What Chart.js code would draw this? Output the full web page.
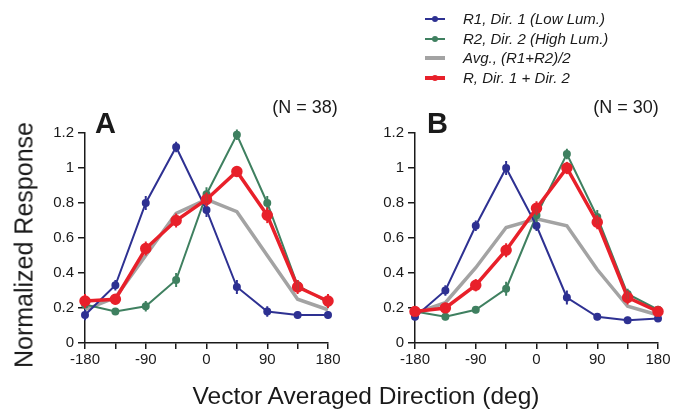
<!DOCTYPE html>
<html>
<head>
<meta charset="utf-8">
<script src="https://cdn.jsdelivr.net/npm/chart.js@4.4.0/dist/chart.umd.min.js"></script>
<style>
  body { margin: 0; background: #fff; font-family: "Liberation Sans", Arial, sans-serif; }
  #wrap { position: relative; width: 673px; height: 409px; overflow: hidden; }
  canvas { position: absolute; top: 0; }
  .txt { position: absolute; color: #1a1a1a; white-space: nowrap; }
  .leg { position: absolute; left: 425px; width: 240px; height: 19px; font-style: italic; font-size: 15px; color: #1a1a1a; white-space: nowrap; }
  .leg span.sw { position: absolute; left: 0; top: 8px; width: 20px; height: 3px; }
  .leg span.dot { position: absolute; left: 7px; top: 6px; width: 6px; height: 6px; border-radius: 50%; }
  .leg span.t { position: absolute; left: 38px; top: 0; }
</style>
</head>
<body>
<div id="wrap">
  <canvas id="panelA" width="345" height="409" style="left:0px;width:345px;height:409px"></canvas>
  <canvas id="panelB" width="343" height="409" style="left:330px;width:343px;height:409px"></canvas>

  <div class="txt" style="left:24px;top:245px;font-size:25px;transform:translate(-50%,-50%) rotate(-90deg);">Normalized Response</div>
  <div class="txt" style="left:366px;top:396px;font-size:24.5px;transform:translate(-50%,-50%);">Vector Averaged Direction (deg)</div>
  <div class="txt" style="left:95px;top:107px;font-size:29px;font-weight:bold;">A</div>
  <div class="txt" style="left:427px;top:107px;font-size:29px;font-weight:bold;">B</div>
  <div class="txt" style="left:305px;top:107px;font-size:18px;transform:translate(-50%,-50%);">(N = 38)</div>
  <div class="txt" style="left:626px;top:107px;font-size:18px;transform:translate(-50%,-50%);">(N = 30)</div>

  <div id="legend"></div>
</div>
<script>
// x positions (deg)
const directions = [-180, -135, -90, -45, 0, 45, 90, 135, 180];
const yTicks = [0, 0.2, 0.4, 0.6, 0.8, 1, 1.2];

// Panel A (N = 38)
const r1A  = [0.16, 0.33, 0.80, 1.12, 0.76, 0.32, 0.18, 0.16, 0.16];
const r2A  = [0.22, 0.18, 0.21, 0.36, 0.85, 1.19, 0.80, 0.33, 0.23];
const avgA = [0.19, 0.26, 0.50, 0.74, 0.82, 0.75, 0.50, 0.25, 0.19];
const rA   = [0.24, 0.25, 0.54, 0.70, 0.82, 0.98, 0.73, 0.32, 0.24];
const r1AErr = [0.02, 0.02, 0.03, 0.02, 0.03, 0.03, 0.02, 0.01, 0.01];
const r2AErr = [0.01, 0.01, 0.02, 0.03, 0.03, 0.02, 0.03, 0.02, 0.02];
const rAErr  = [0.03, 0.02, 0.03, 0.03, 0.03, 0.02, 0.035, 0.03, 0.03];

// Panel B (N = 30)
const r1B  = [0.15, 0.30, 0.67, 1.00, 0.67, 0.26, 0.15, 0.13, 0.14];
const r2B  = [0.18, 0.15, 0.19, 0.31, 0.73, 1.08, 0.72, 0.28, 0.19];
const avgB = [0.17, 0.23, 0.43, 0.66, 0.71, 0.67, 0.42, 0.21, 0.16];
const rB   = [0.18, 0.20, 0.33, 0.53, 0.77, 1.00, 0.69, 0.26, 0.18];
const r1BErr = [0.01, 0.02, 0.02, 0.03, 0.02, 0.03, 0.01, 0.01, 0.01];
const r2BErr = [0.01, 0.01, 0.01, 0.03, 0.03, 0.02, 0.03, 0.02, 0.01];
const rBErr  = [0.02, 0.02, 0.025, 0.03, 0.03, 0.025, 0.03, 0.03, 0.02];

const seriesNames = ["R1, Dir. 1 (Low Lum.)", "R2, Dir. 2 (High Lum.)", "Avg., (R1+R2)/2", "R, Dir. 1 + Dir. 2"];
const seriesColors = ["#2e3192", "#3f8060", "#a3a3a3", "#e8202a"];

// legend (html)
const legend = document.getElementById("legend");
seriesNames.forEach((name, i) => {
    const row = document.createElement("div");
    row.className = "leg";
    row.style.top = (10 + i * 19.5) + "px";
    let html = '<span class="sw" style="background:' + seriesColors[i] + ';' + (i >= 2 ? 'height:4px;top:7px;' : 'height:2px;') + '"></span>';
    if (i !== 2) html += '<span class="dot" style="background:' + seriesColors[i] + '"></span>';
    html += '<span class="t">' + name + '</span>';
    row.innerHTML = html;
    legend.appendChild(row);
});

// error bar plugin
const errorBars = {
    id: "errorBars",
    afterDatasetsDraw(chart) {
        const ctx = chart.ctx;
        const xs = chart.scales.x, ys = chart.scales.y;
        chart.data.datasets.forEach(ds => {
            if (!ds.errors) return;
            ctx.save();
            ctx.strokeStyle = ds.borderColor;
            ctx.lineWidth = 2;
            ds.data.forEach((p, i) => {
                const x = xs.getPixelForValue(p.x);
                const e = ds.errors[i] + 0.01;
                ctx.beginPath();
                ctx.moveTo(x, ys.getPixelForValue(p.y - e));
                ctx.lineTo(x, ys.getPixelForValue(p.y + e));
                ctx.stroke();
            });
            ctx.restore();
        });
    }
};

function toPoints(values) {
    return values.map((v, i) => ({ x: directions[i], y: v }));
}

function createPanel(canvasId, r1, r2, avg, r, r1Err, r2Err, rErr, padRight) {
    new Chart(document.getElementById(canvasId), {
        type: "line",
        data: {
            datasets: [
                { label: seriesNames[0], data: toPoints(r1), errors: r1Err, borderColor: seriesColors[0], backgroundColor: seriesColors[0], borderWidth: 2, pointRadius: 3, order: 2, clip: false },
                { label: seriesNames[1], data: toPoints(r2), errors: r2Err, borderColor: seriesColors[1], backgroundColor: seriesColors[1], borderWidth: 2, pointRadius: 3, order: 3, clip: false },
                { label: seriesNames[2], data: toPoints(avg), borderColor: seriesColors[2], backgroundColor: seriesColors[2], borderWidth: 3.5, pointRadius: 0, order: 4, clip: false },
                { label: seriesNames[3], data: toPoints(r), errors: rErr, borderColor: seriesColors[3], backgroundColor: seriesColors[3], borderWidth: 3.5, pointRadius: 4, order: 1, clip: false },
            ],
        },
        options: {
            responsive: false,
            animation: false,
            layout: {
                padding: { left: 0, right: padRight, top: 133, bottom: 0 },
            },
            plugins: {
                legend: { display: false },
                tooltip: { enabled: false },
            },
            scales: {
                x: {
                    type: "linear",
                    min: -180,
                    max: 180,
                    afterFit: function (scale) { scale.height = 66; },
                    afterBuildTicks: function (scale) {
                        scale.ticks = directions.map(v => ({ value: v }));
                    },
                    ticks: {
                        autoSkip: false,
                        maxRotation: 0,
                        color: "#1a1a1a",
                        font: { family: "Liberation Sans", size: 15 },
                        padding: 2,
                        callback: function (value) { return value % 90 === 0 ? String(value) : ""; },
                    },
                    grid: { drawOnChartArea: false, tickLength: 6, color: "#1a1a1a", lineWidth: 1.5 },
                    border: { color: "#1a1a1a", width: 1.5 },
                },
                y: {
                    min: 0,
                    max: 1.2,
                    afterFit: function (scale) { scale.width = 85; },
                    afterBuildTicks: function (scale) {
                        scale.ticks = yTicks.map(v => ({ value: v }));
                    },
                    ticks: {
                        color: "#1a1a1a",
                        font: { family: "Liberation Sans", size: 15 },
                        padding: 4,
                        callback: function (value) { return String(Math.round(value * 10) / 10); },
                    },
                    grid: { drawOnChartArea: false, tickLength: 7, color: "#1a1a1a", lineWidth: 1.5 },
                    border: { color: "#1a1a1a", width: 1.5 },
                },
            },
        },
        plugins: [errorBars],
    });
}

createPanel("panelA", r1A, r2A, avgA, rA, r1AErr, r2AErr, rAErr, 17);
createPanel("panelB", r1B, r2B, avgB, rB, r1BErr, r2BErr, rBErr, 15);
</script>
</body>
</html>
